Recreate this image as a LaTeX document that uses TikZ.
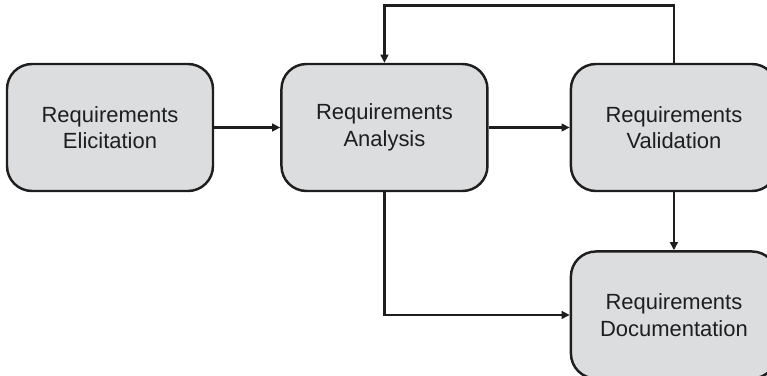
\documentclass[tikz,border=0pt]{standalone}
\usepackage{fontspec}
\setmainfont{Liberation Sans}
\usepackage{xcolor}
\usepackage{tikz}
\usetikzlibrary{arrows.meta, positioning, calc}
\definecolor{mydark}{RGB}{30,30,30}
\definecolor{hdrgray}{RGB}{220,221,223}
\tikzset{
  block/.style={rectangle, draw=mydark, fill=hdrgray, text=mydark,
    minimum width=4.12cm, minimum height=2.54cm, align=center,
    font=\fontsize{12.5}{15.2}\selectfont, rounded corners=0.5cm, line width=1.4pt},
  arrow/.style={-{Triangle[length=4.6pt,width=4.4pt]}, line width=1.5pt, color=mydark}
}
\begin{document}
\begin{tikzpicture}
  \useasboundingbox (0,0) rectangle (15.34,-7.5);
  \node[block] (elic) at (2.2,-2.55) {Requirements\\Elicitation};
  \node[block, right=1.32cm of elic] (anal) {Requirements\\Analysis};
  \node[block, right=1.62cm of anal] (valid) {Requirements\\Validation};
  \node[block, below=1.16cm of valid] (doc) {Requirements\\Documentation};
  \coordinate (top) at ($(valid.north)+(0,1.14)$);
  \draw[arrow] (elic) -- (anal);
  \draw[arrow] (anal) -- (valid);
  \draw[arrow] (valid) -- (doc);
  \draw[arrow] (valid.north) -- (top) -| (anal.north);
  \draw[arrow] (anal.south) |- (doc.west);
\end{tikzpicture}
\end{document}
